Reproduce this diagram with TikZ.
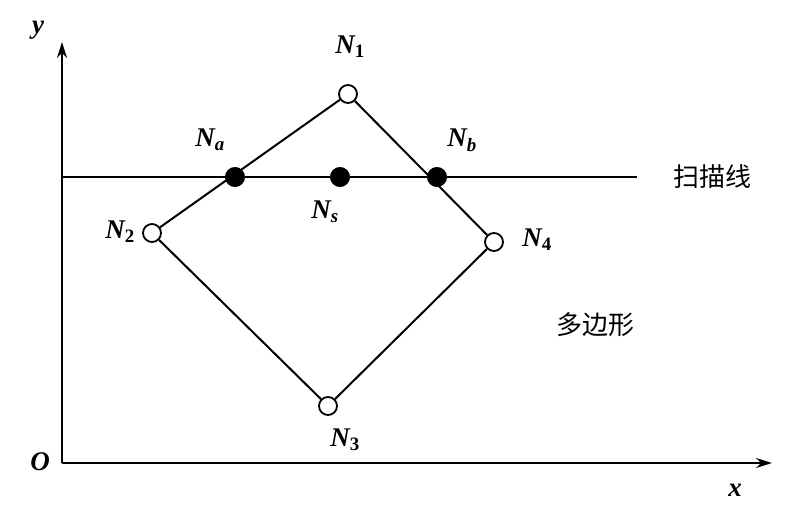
\documentclass[tikz,border=0pt]{standalone}
\usepackage{fontspec}
\setmainfont{Liberation Serif}
\newfontfamily\cjk{Noto Sans CJK SC}
\usetikzlibrary{arrows.meta}
\newcommand{\up}[1]{\textsubscript{\upshape #1}}
\begin{document}
\begin{tikzpicture}[x=1pt,y=-1pt,line width=2pt,
  lab/.style={font=\bfseries\itshape\fontsize{27}{29}\selectfont},
  cj/.style={font=\cjk\fontsize{26}{28}\selectfont},
  ov/.style={circle,draw,fill=white,minimum size=18pt,inner sep=0pt,line width=1.8pt},
  fv/.style={circle,draw,fill=black,minimum size=18pt,inner sep=0pt}]
\useasboundingbox (0,0) rectangle (798,511);
\coordinate (o) at (62,463);
\coordinate (yt) at (62,42);
\coordinate (xt) at (772,463);
\coordinate (sl) at (62,177);
\coordinate (sr) at (637,177);
\draw[-{Stealth[length=16pt,width=10pt]}] (o) -- (yt);
\draw[-{Stealth[length=16pt,width=10pt]}] (o) -- (xt);
\draw (sl) -- (sr);
\node[ov] (n1) at (348,94) {};
\node[ov] (n2) at (152,233) {};
\node[ov] (n3) at (328,406) {};
\node[ov] (n4) at (494,242) {};
\draw (n1) -- (n2) -- (n3) -- (n4) -- (n1);
\node[fv] (na) at (235,177) {};
\node[fv] (ns) at (340,177) {};
\node[fv] (nb) at (437,177) {};
\node[lab] (ly) at (38,30) {y};
\node[lab] (lo) at (40,462) {O};
\node[lab] (lx) at (735,490) {x};
\node[lab] (l1) at (350,47) {N\up{1}};
\node[lab] (la) at (210,140) {N\textsubscript{a}};
\node[lab] (lb) at (462,140) {N\textsubscript{b}};
\node[lab] (ls) at (325,212) {N\textsubscript{s}};
\node[lab] (l2) at (120,232) {N\up{2}};
\node[lab] (l4) at (537,240) {N\up{4}};
\node[lab] (l3) at (345,440) {N\up{3}};
\node[cj] (scan) at (712,177) {扫描线};
\node[cj] (poly) at (595,325) {多边形};
\end{tikzpicture}
\end{document}
